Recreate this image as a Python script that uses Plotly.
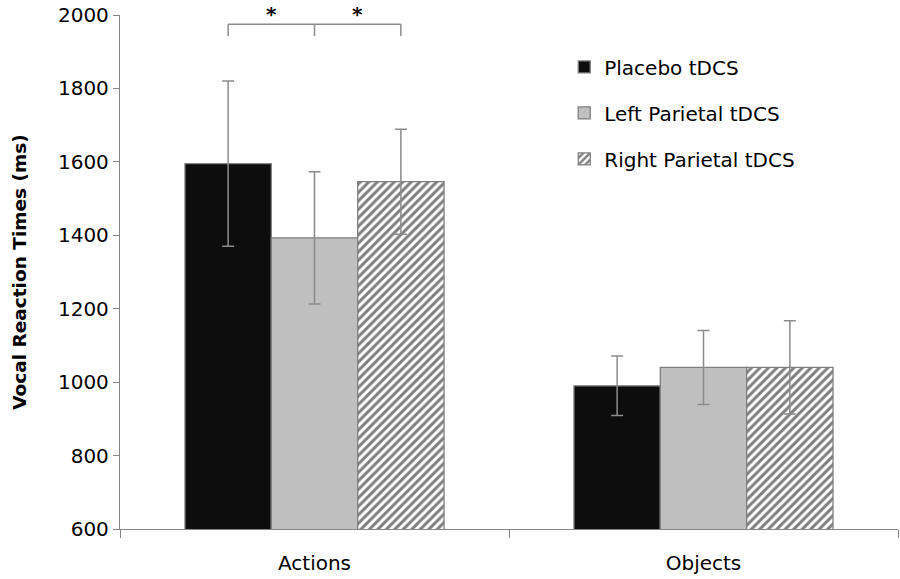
import plotly.graph_objects as go

# data
conditions = ["Actions", "Objects"]
series_names = ["Placebo tDCS", "Left Parietal tDCS", "Right Parietal tDCS"]
placebo_rt = [1595, 990]
placebo_err = [225, 81]
left_rt = [1393, 1040]
left_err = [180, 101]
right_rt = [1546, 1040]
right_err = [143, 127]
y_ticks = [600, 800, 1000, 1200, 1400, 1600, 1800, 2000]

FONT = "DejaVu Sans"
AXIS_GREY = "#868686"
BAR_GAP = 0.334

fig = go.Figure()

styles = [
    dict(color="#0d0d0d"),
    dict(color="#bfbfbf"),
    dict(color="white", pattern=dict(shape="/", fgcolor="black", bgcolor="white",
                                     size=6, solidity=0.5)),
]
values = [placebo_rt, left_rt, right_rt]
errors = [placebo_err, left_err, right_err]

for i, (name, vals, errs, style) in enumerate(zip(series_names, values, errors, styles)):
    fig.add_trace(go.Bar(
        x=conditions,
        y=vals,
        name=name,
        legendgroup=f"g{i}",
        marker=dict(line=dict(color="#808080", width=1.3), **style),
        error_y=dict(type="data", array=errs, color="#8c8c8c", thickness=1.5, width=6),
    ))

# significance bracket over the Actions group (positions from bar layout)
bar_w = (1 - BAR_GAP) / len(series_names)
centers = [(k - 1) * bar_w for k in range(len(series_names))]
b_top, b_bot = 1975, 1943
line = dict(color="#8c8c8c", width=1.5)
fig.add_shape(type="line", x0=centers[0], x1=centers[2], y0=b_top, y1=b_top, line=line)
for c in centers:
    fig.add_shape(type="line", x0=c, x1=c, y0=b_bot, y1=b_top, line=line)
for a, b in [(centers[0], centers[1]), (centers[1], centers[2])]:
    fig.add_annotation(x=(a + b) / 2, xref="x", y=1.0175, yref="paper", yanchor="top",
                       text="<b>*</b>", showarrow=False, borderpad=0,
                       height=14, valign="middle",
                       font=dict(family=FONT, size=20, color="black"))

fig.update_layout(
    width=900,
    height=579,
    margin=dict(l=120, r=2, t=15, b=50, autoexpand=False),
    paper_bgcolor="white",
    plot_bgcolor="white",
    barmode="group",
    bargap=BAR_GAP,
    bargroupgap=0,
    font=dict(family=FONT, color="black"),
    showlegend=True,
    legend=dict(
        x=0.571, y=0.937, xanchor="left", yanchor="top",
        font=dict(family=FONT, size=20, color="black"),
        traceorder="grouped", tracegroupgap=17,
        bgcolor="rgba(0,0,0,0)",
    ),
    xaxis=dict(
        showline=True, linecolor=AXIS_GREY, linewidth=1.3,
        ticks="outside", tickson="boundaries", ticklen=8,
        tickcolor=AXIS_GREY, tickfont=dict(family=FONT, size=20),
        ticklabelstandoff=16, automargin=False,
        showgrid=False, zeroline=False,
    ),
    yaxis=dict(
        range=[600, 2000], tickvals=y_ticks,
        showline=True, linecolor=AXIS_GREY, linewidth=1.3,
        ticks="outside", ticklen=6, tickcolor=AXIS_GREY,
        tickfont=dict(family=FONT, size=20),
        ticklabeloverflow="allow", automargin=False,
        showgrid=False, zeroline=False,
        title=dict(text="<b>Vocal Reaction Times (ms)</b>",
                   font=dict(family=FONT, size=18.5), standoff=26),
    ),
)

# drop the default page margin so the figure fills the window exactly
fig.write_html("out.html", config={"displayModeBar": False},
               post_script="document.body.style.margin='0';")
